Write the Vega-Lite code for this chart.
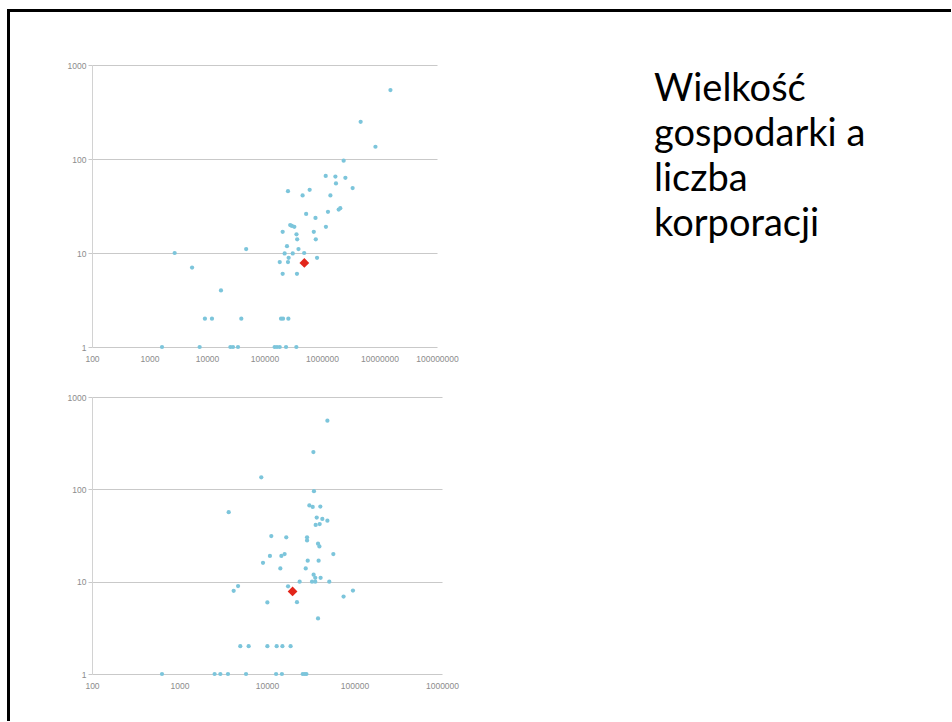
{
  "$schema": "https://vega.github.io/schema/vega-lite/v6.json",
  "background": "white",
  "padding": {"left": 7, "top": 9, "right": 0, "bottom": 0},
  "spacing": 0,
  "config": {
    "view": {"stroke": null},
    "font": "Liberation Sans",
    "axis": {"labelFont": "Liberation Sans", "labelColor": "#8c8c8c", "labelFontSize": 8.5, "title": null, "labelOverlap": false, "labelBound": false, "labelFlush": false}
  },
  "datasets": {
    "top": [
      {"x": 15500000, "y": 541, "highlight": false},
      {"x": 4700000, "y": 249, "highlight": false},
      {"x": 8500000, "y": 135, "highlight": false},
      {"x": 2380000, "y": 96, "highlight": false},
      {"x": 1160000, "y": 66, "highlight": false},
      {"x": 1710000, "y": 65, "highlight": false},
      {"x": 2550000, "y": 63, "highlight": false},
      {"x": 1750000, "y": 55, "highlight": false},
      {"x": 3410000, "y": 49, "highlight": false},
      {"x": 256000, "y": 45.5, "highlight": false},
      {"x": 610000, "y": 47, "highlight": false},
      {"x": 460000, "y": 41, "highlight": false},
      {"x": 1400000, "y": 41, "highlight": false},
      {"x": 530000, "y": 26, "highlight": false},
      {"x": 1270000, "y": 27.4, "highlight": false},
      {"x": 1950000, "y": 29, "highlight": false},
      {"x": 2080000, "y": 30, "highlight": false},
      {"x": 770000, "y": 23.6, "highlight": false},
      {"x": 280000, "y": 19.8, "highlight": false},
      {"x": 300000, "y": 19.4, "highlight": false},
      {"x": 330000, "y": 19, "highlight": false},
      {"x": 1170000, "y": 19, "highlight": false},
      {"x": 207000, "y": 16.8, "highlight": false},
      {"x": 360000, "y": 15.8, "highlight": false},
      {"x": 720000, "y": 16.8, "highlight": false},
      {"x": 370000, "y": 14, "highlight": false},
      {"x": 780000, "y": 14, "highlight": false},
      {"x": 246000, "y": 11.8, "highlight": false},
      {"x": 390000, "y": 11, "highlight": false},
      {"x": 48000, "y": 11, "highlight": false},
      {"x": 224000, "y": 9.9, "highlight": false},
      {"x": 310000, "y": 9.9, "highlight": false},
      {"x": 490000, "y": 10, "highlight": false},
      {"x": 2740, "y": 10, "highlight": false},
      {"x": 263000, "y": 8.9, "highlight": false},
      {"x": 820000, "y": 8.9, "highlight": false},
      {"x": 184000, "y": 8, "highlight": false},
      {"x": 256000, "y": 8, "highlight": false},
      {"x": 5500, "y": 7, "highlight": false},
      {"x": 207000, "y": 6, "highlight": false},
      {"x": 367000, "y": 6, "highlight": false},
      {"x": 17500, "y": 4, "highlight": false},
      {"x": 9200, "y": 2, "highlight": false},
      {"x": 12200, "y": 2, "highlight": false},
      {"x": 39500, "y": 2, "highlight": false},
      {"x": 194000, "y": 2, "highlight": false},
      {"x": 210000, "y": 2, "highlight": false},
      {"x": 260000, "y": 2, "highlight": false},
      {"x": 1650, "y": 1, "highlight": false},
      {"x": 7450, "y": 1, "highlight": false},
      {"x": 25500, "y": 1, "highlight": false},
      {"x": 28300, "y": 1, "highlight": false},
      {"x": 34600, "y": 1, "highlight": false},
      {"x": 150000, "y": 1, "highlight": false},
      {"x": 165000, "y": 1, "highlight": false},
      {"x": 184000, "y": 1, "highlight": false},
      {"x": 237000, "y": 1, "highlight": false},
      {"x": 358000, "y": 1, "highlight": false},
      {"x": 493000, "y": 7.85, "highlight": true}
    ],
    "bottom": [
      {"x": 49000, "y": 554, "highlight": false},
      {"x": 33900, "y": 253, "highlight": false},
      {"x": 8600, "y": 135, "highlight": false},
      {"x": 34400, "y": 95.5, "highlight": false},
      {"x": 3650, "y": 56.5, "highlight": false},
      {"x": 30500, "y": 67, "highlight": false},
      {"x": 33300, "y": 64.5, "highlight": false},
      {"x": 40700, "y": 65, "highlight": false},
      {"x": 37000, "y": 49.4, "highlight": false},
      {"x": 42900, "y": 47.8, "highlight": false},
      {"x": 49000, "y": 45.8, "highlight": false},
      {"x": 36000, "y": 41.1, "highlight": false},
      {"x": 40000, "y": 42, "highlight": false},
      {"x": 11200, "y": 31.2, "highlight": false},
      {"x": 16600, "y": 30.2, "highlight": false},
      {"x": 28700, "y": 30.2, "highlight": false},
      {"x": 28700, "y": 28, "highlight": false},
      {"x": 38300, "y": 25.8, "highlight": false},
      {"x": 39700, "y": 24.1, "highlight": false},
      {"x": 10800, "y": 19, "highlight": false},
      {"x": 14600, "y": 19, "highlight": false},
      {"x": 15900, "y": 19.9, "highlight": false},
      {"x": 57300, "y": 19.9, "highlight": false},
      {"x": 9000, "y": 16, "highlight": false},
      {"x": 29200, "y": 16.9, "highlight": false},
      {"x": 38900, "y": 16.9, "highlight": false},
      {"x": 14200, "y": 13.9, "highlight": false},
      {"x": 27700, "y": 13.9, "highlight": false},
      {"x": 34100, "y": 11.9, "highlight": false},
      {"x": 35600, "y": 11, "highlight": false},
      {"x": 41000, "y": 11, "highlight": false},
      {"x": 23600, "y": 10, "highlight": false},
      {"x": 32700, "y": 10, "highlight": false},
      {"x": 35600, "y": 10, "highlight": false},
      {"x": 51500, "y": 10, "highlight": false},
      {"x": 4670, "y": 8.95, "highlight": false},
      {"x": 4160, "y": 7.96, "highlight": false},
      {"x": 17400, "y": 8.9, "highlight": false},
      {"x": 75000, "y": 6.9, "highlight": false},
      {"x": 96000, "y": 8, "highlight": false},
      {"x": 10100, "y": 5.95, "highlight": false},
      {"x": 22000, "y": 6, "highlight": false},
      {"x": 38300, "y": 4, "highlight": false},
      {"x": 4950, "y": 2, "highlight": false},
      {"x": 6170, "y": 2, "highlight": false},
      {"x": 10100, "y": 2, "highlight": false},
      {"x": 12900, "y": 2, "highlight": false},
      {"x": 15000, "y": 2, "highlight": false},
      {"x": 18600, "y": 2, "highlight": false},
      {"x": 631, "y": 1, "highlight": false},
      {"x": 2520, "y": 1, "highlight": false},
      {"x": 2930, "y": 1, "highlight": false},
      {"x": 3580, "y": 1, "highlight": false},
      {"x": 5760, "y": 1, "highlight": false},
      {"x": 12700, "y": 1, "highlight": false},
      {"x": 14800, "y": 1, "highlight": false},
      {"x": 25600, "y": 1, "highlight": false},
      {"x": 27000, "y": 1, "highlight": false},
      {"x": 28200, "y": 1, "highlight": false},
      {"x": 19600, "y": 7.83, "highlight": true}
    ]
  },
  "vconcat": [
    {
      "width": 942, "height": 1,
      "data": {"values": []},
      "mark": "point",
      "view": {"stroke": "black", "strokeWidth": 2}
    },
    {
      "spacing": 57,
      "hconcat": [
        {
          "width": 1, "height": 707,
          "data": {"values": []},
          "mark": "point",
          "view": {"stroke": "black", "strokeWidth": 2}
        },
        {
          "spacing": 195,
          "hconcat": [
            {
              "spacing": 30,
              "vconcat": [
                {"width": 345, "height": 18, "data": {"values": []}, "mark": "point"},
                {
                  "width": 345, "height": 282,
                  "data": {"name": "top"},
                  "encoding": {
                    "x": {"field": "x", "type": "quantitative",
                      "scale": {"type": "log", "domain": [100, 100000000], "nice": false},
                      "axis": {"values": [100, 1000, 10000, 100000, 1000000, 10000000, 100000000], "format": "d", "grid": false, "ticks": false, "domain": false, "labelPadding": 7}},
                    "y": {"field": "y", "type": "quantitative",
                      "scale": {"type": "log", "domain": [1, 1000], "nice": false},
                      "axis": {"values": [1, 10, 100, 1000], "format": "d", "grid": true, "gridColor": "#c9c9c9", "domainColor": "#d2d2d2", "tickColor": "#c9c9c9", "tickSize": 4, "labelPadding": 2}}
                  },
                  "layer": [
                    {"transform": [{"filter": "!datum.highlight"}], "mark": {"type": "circle", "size": 18, "color": "#7cc5db", "opacity": 1}},
                    {"transform": [{"filter": "datum.highlight"}], "mark": {"type": "point", "shape": "diamond", "filled": true, "size": 95, "color": "#e2261b", "opacity": 1}}
                  ]
                },
                {
                  "width": 350, "height": 277,
                  "data": {"name": "bottom"},
                  "encoding": {
                    "x": {"field": "x", "type": "quantitative",
                      "scale": {"type": "log", "domain": [100, 1000000], "nice": false},
                      "axis": {"values": [100, 1000, 10000, 100000, 1000000], "format": "d", "grid": false, "ticks": false, "domain": false, "labelPadding": 7}},
                    "y": {"field": "y", "type": "quantitative",
                      "scale": {"type": "log", "domain": [1, 1000], "nice": false},
                      "axis": {"values": [1, 10, 100, 1000], "format": "d", "grid": true, "gridColor": "#c9c9c9", "domainColor": "#d2d2d2", "tickColor": "#c9c9c9", "tickSize": 4, "labelPadding": 2}}
                  },
                  "layer": [
                    {"transform": [{"filter": "!datum.highlight"}], "mark": {"type": "circle", "size": 18, "color": "#7cc5db", "opacity": 1}},
                    {"transform": [{"filter": "datum.highlight"}], "mark": {"type": "point", "shape": "diamond", "filled": true, "size": 95, "color": "#e2261b", "opacity": 1}}
                  ]
                }
              ]
            },
            {
              "spacing": 0,
              "vconcat": [
                {"width": 280, "height": 58, "data": {"values": []}, "mark": "point"},
                {
                  "width": 280, "height": 1,
                  "data": {"values": []},
                  "mark": "point",
                  "title": {
                    "text": ["Wielkość", "gospodarki a", "liczba", "korporacji"],
                    "anchor": "start",
                    "font": "Lato",
                    "fontSize": 38,
                    "fontWeight": "normal",
                    "lineHeight": 45,
                    "color": "#000000",
                    "offset": 0
                  }
                }
              ]
            }
          ]
        }
      ]
    }
  ]
}
